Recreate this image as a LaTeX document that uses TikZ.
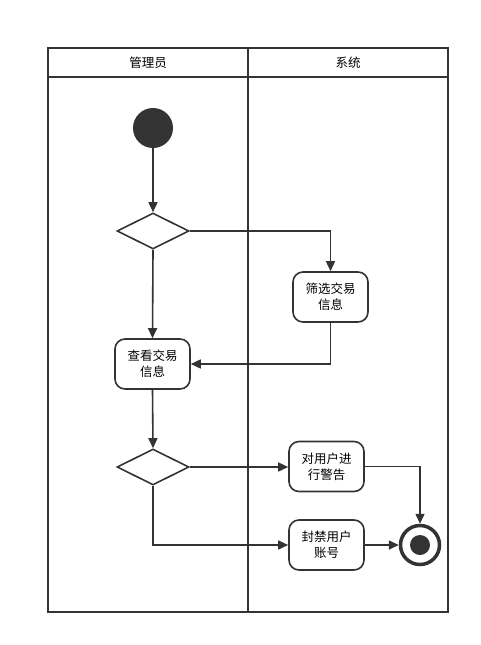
\documentclass[tikz,border=0pt]{standalone}
\usepackage{fontspec}
\setmainfont{Noto Sans CJK SC}
\usetikzlibrary{shapes.geometric, arrows.meta}
\definecolor{ink}{HTML}{333333}

\tikzset{
	act/.style={draw=ink, line width=1.6pt, rounded corners=10pt, minimum width=75pt, minimum height=50pt, align=center, inner sep=2pt, font=\fontsize{12.5}{16}\selectfont},
	choice/.style={draw=ink, diamond, aspect=2, minimum width=72pt, minimum height=36pt, inner sep=0pt, line width=1.6pt},
	flow/.style={draw=ink, line width=1.6pt, -{Triangle[length=10pt,width=9pt]}},
	lane/.style={draw=ink, line width=1.8pt},
}

\begin{document}
\begin{tikzpicture}[x=1pt, y=-1pt]
	\useasboundingbox (0,0) rectangle (480,645);
	\draw[lane] (48,48) rectangle (448,612);
	\draw[lane] (48,77) -- (448,77);
	\draw[lane] (248,48) -- (248,612);
	\node[font=\fontsize{12.5}{14}\selectfont] (admin) at (148,63) {管理员};
	\node[font=\fontsize{12.5}{14}\selectfont] (system) at (348,63) {系统};
	\node[circle, fill=ink, minimum size=40pt, inner sep=0pt] (start) at (153,128) {};
	\node[choice] (d1) at (153,231) {};
	\node[act] (filter) at (330.5,297) {筛选交易\\信息};
	\node[act] (view) at (152.5,364) {查看交易\\信息};
	\node[choice] (d2) at (153,467) {};
	\node[act] (warn) at (326.5,466.5) {对用户进\\行警告};
	\node[act] (ban) at (326.5,545) {封禁用户\\账号};
	\node[circle, draw=ink, line width=3.5pt, minimum size=39pt, inner sep=0pt] (stop) at (420,545) {};
	\fill[ink] (stop.center) circle (10pt);
	\draw[flow] (start) -- (d1);
	\draw[flow] (d1.east) -| (filter.north);
	\draw[flow] (d1.south) -- (view.north);
	\draw[flow] (filter.south) |- (view.east);
	\draw[flow] (view.south) -- (d2.north);
	\draw[flow] (d2.east) -- (d2.east -| warn.west);
	\draw[flow] (d2.south) |- (ban.west);
	\draw[flow] (warn.east) -| (stop.north);
	\draw[flow] (ban.east) -- (stop.west);
\end{tikzpicture}
\end{document}
